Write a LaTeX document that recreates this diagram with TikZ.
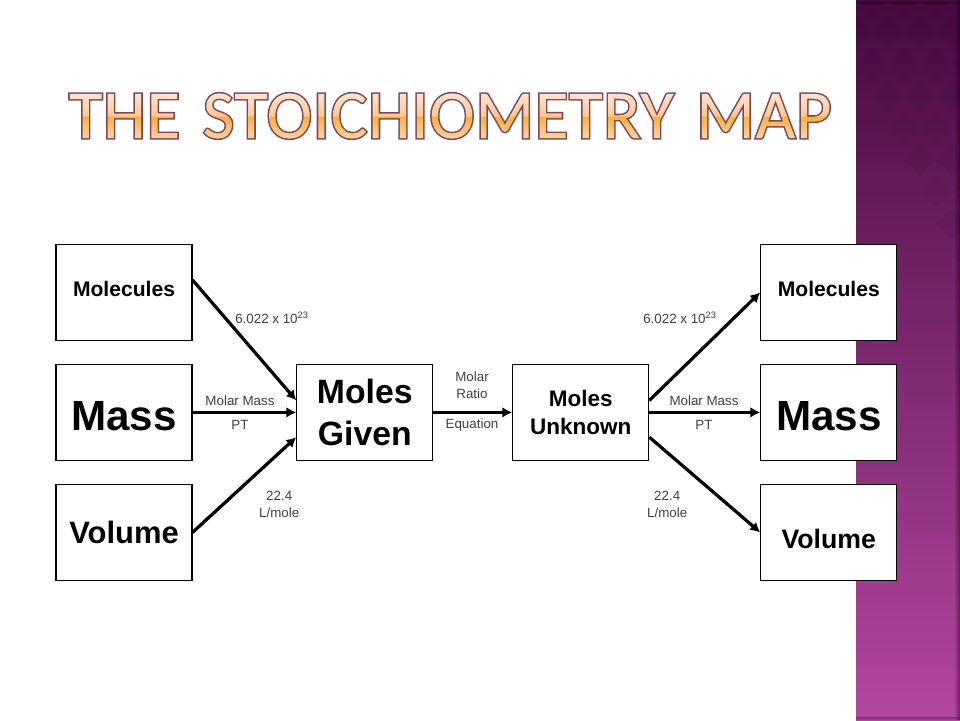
\documentclass[tikz,border=0pt]{standalone}
\usepackage{fontspec}
\setmainfont{Liberation Sans}
\newfontfamily\titlefont[LetterSpace=0.8,WordSpace=1.4]{Carlito}
\usetikzlibrary{arrows.meta,fadings}

\definecolor{sidetop}{HTML}{470A40}
\definecolor{sidebot}{HTML}{B3479F}
\definecolor{titlelow}{HTML}{FDD4AC}
\definecolor{titlemid}{HTML}{FBB040}
\definecolor{titleupp}{HTML}{FDC998}
\definecolor{titletop}{HTML}{FDE6D2}

\tikzset{
  stoichbox/.style={draw=black, line width=.8pt, fill=white, minimum width=3.4cm, minimum height=2.4cm, inner sep=0pt, align=center, font=\bfseries},
  conv/.style={-{Latex[length=7pt,width=7.5pt]}, line width=2.3pt},
  convlabel/.style={align=center, font=\fontsize{9.5}{12}\selectfont, text=black!75, inner sep=0pt}
}
\pgfdeclareverticalshading{titlegrad}{100bp}{
  color(0bp)=(titlelow);
  color(25bp)=(titlelow);
  color(41bp)=(titlemid!65!titlelow);
  color(49bp)=(titlemid);
  color(51bp)=(titleupp);
  color(75bp)=(titletop);
  color(100bp)=(titletop)}

% stroked letters that also clip the shading behind them
\newcommand{\shadedtitle}[1]{\special{pdf:code q 5 Tr 2.2 w .48 .29 .35 RG}#1\special{pdf:code 0 Tr}\smash{\llap{\tikz[baseline=0pt] \shade[shading=titlegrad] (0,-.05) rectangle (20,1.15);}}\special{pdf:code Q}}

\begin{document}
\begin{tikzpicture}
\useasboundingbox (0,0) rectangle (24,18);

% Side band
\shade[top color=sidetop, bottom color=sidebot] (21.4,0) rectangle (24,18);
\begin{scope}
\clip (21.4,0) rectangle (24,18);
\foreach \i in {0,...,6}
  \foreach \j in {0,...,24}
    \fill[black, opacity=.035] (21.4+\i*.8-.8+.4*\j,18-\j*.8) -- ++(.4,.4) -- ++(.4,-.4) -- ++(-.4,-.4) -- cycle;
\end{scope}
\fill[black, opacity=.45, path fading=west] (23.85,0) rectangle (24,18);
\fill[black, opacity=.35, path fading=south] (21.4,0) rectangle (24,.08);
\fill[black, opacity=.3, path fading=north] (21.4,17.9) rectangle (24,18);

% Title
\node[inner sep=0pt, font=\titlefont\fontsize{49}{54}\selectfont] (title) at (11.26,15.1)
  {\shadedtitle{THE STOICHIOMETRY MAP}};

% Boxes
\node[stoichbox, font=\bfseries\fontsize{15}{18}\selectfont, text height=.22cm, text depth=0pt] (moleculesA) at (3.1,10.69) {Molecules};
\node[stoichbox, font=\bfseries\fontsize{30}{34}\selectfont, text height=.92cm, text depth=0pt] (massA) at (3.1,7.69) {Mass};
\node[stoichbox, font=\bfseries\fontsize{22}{26}\selectfont] (volumeA) at (3.1,4.69) {Volume};
\node[stoichbox, font=\bfseries\fontsize{24}{29.5}\selectfont] (given) at (9.12,7.69) {Moles\\Given};
\node[stoichbox, font=\bfseries\fontsize{16}{20}\selectfont] (unknown) at (14.52,7.69) {Moles\\Unknown};
\node[stoichbox, font=\bfseries\fontsize{15}{18}\selectfont, text height=.22cm, text depth=0pt] (moleculesB) at (20.72,10.69) {Molecules};
\node[stoichbox, font=\bfseries\fontsize{30}{34}\selectfont, text height=.92cm, text depth=0pt] (massB) at (20.72,7.69) {Mass};
\node[stoichbox, font=\bfseries\fontsize{19}{23}\selectfont, text height=.82cm, text depth=0pt] (volumeB) at (20.72,4.69) {Volume};

% Arrows
\draw[conv] ([yshift=.31cm]moleculesA.east) -- ([yshift=.3cm]given.west);
\draw[conv] (massA.east) -- (given.west);
\draw[conv] (volumeA.east) -- ([yshift=-.62cm]given.west);
\draw[conv] (given.east) -- (unknown.west);
\draw[conv] ([yshift=.3cm]unknown.east) -- (moleculesB.west);
\draw[conv] (unknown.east) -- (massB.west);
\draw[conv] ([yshift=-.62cm]unknown.east) -- (volumeB.west);

% Labels
\node[convlabel] (avoA) at (6.8,10.05) {6.022 x 10\textsuperscript{23}};
\node[convlabel] (molarA) at (6,7.97) {Molar Mass};
\node[convlabel] (ptA) at (6,7.37) {PT};
\node[convlabel] (literA) at (6.98,5.38) {22.4\\L/mole};
\node[convlabel] (ratio) at (11.8,8.38) {Molar\\Ratio};
\node[convlabel] (equation) at (11.8,7.37) {Equation};
\node[convlabel] (avoB) at (17,10.05) {6.022 x 10\textsuperscript{23}};
\node[convlabel] (molarB) at (17.6,7.97) {Molar Mass};
\node[convlabel] (ptB) at (17.6,7.37) {PT};
\node[convlabel] (literB) at (16.68,5.38) {22.4\\L/mole};
\end{tikzpicture}
\end{document}
